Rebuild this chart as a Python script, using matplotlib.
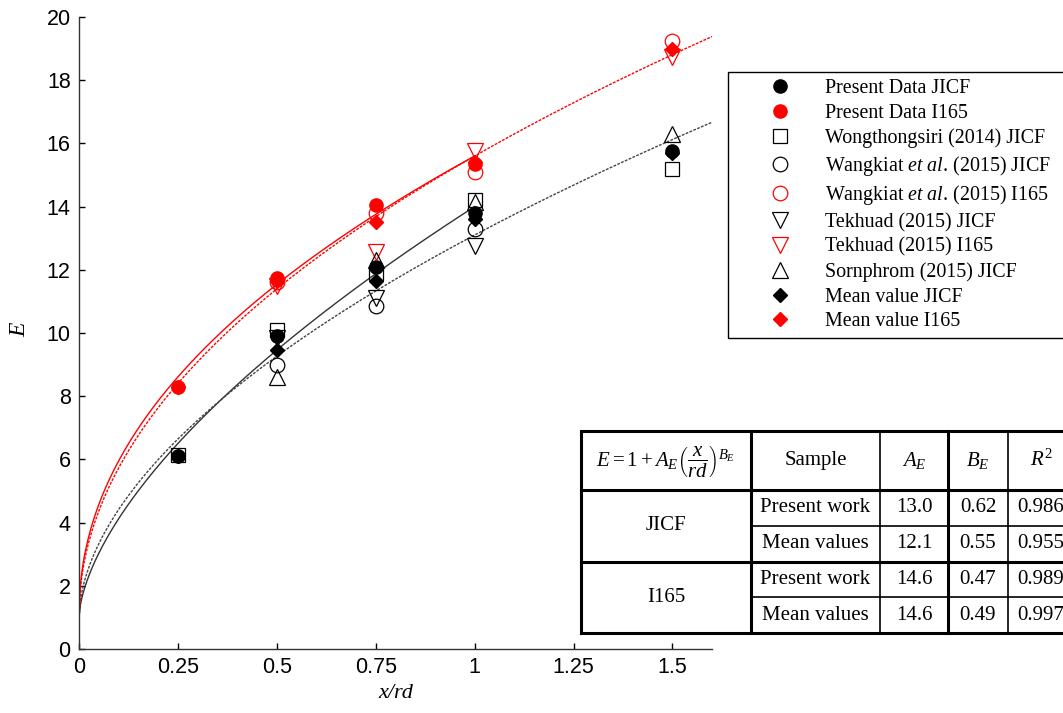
import numpy as np
import matplotlib
matplotlib.use("Agg")
import matplotlib.pyplot as plt
from matplotlib.lines import Line2D
from matplotlib.patches import Rectangle

plt.rcParams["mathtext.fontset"] = "custom"
plt.rcParams["mathtext.rm"] = "Liberation Serif"
plt.rcParams["mathtext.it"] = "Liberation Serif:italic"

# data
x_pres_jicf = [0.25, 0.5, 0.75, 1.0, 1.5]
e_pres_jicf = [6.1, 9.9, 12.1, 13.8, 15.75]
x_pres_i165 = [0.25, 0.5, 0.75, 1.0]
e_pres_i165 = [8.3, 11.75, 14.05, 15.35]
x_wong_jicf = [0.25, 0.5, 0.75, 1.0, 1.5]
e_wong_jicf = [6.15, 10.1, 11.9, 14.2, 15.2]
x_wang_jicf = [0.5, 0.75, 1.0]
e_wang_jicf = [9.0, 10.85, 13.3]
x_wang_i165 = [0.5, 0.75, 1.0, 1.5]
e_wang_i165 = [11.6, 13.8, 15.1, 19.25]
x_tek_jicf = [0.5, 0.75, 1.0]
e_tek_jicf = [9.85, 11.1, 12.75]
x_tek_i165 = [0.5, 0.75, 1.0, 1.5]
e_tek_i165 = [11.5, 12.55, 15.75, 18.75]
x_sorn_jicf = [0.5, 0.75, 1.0, 1.5]
e_sorn_jicf = [8.6, 12.3, 14.15, 16.3]
x_mean_jicf = [0.25, 0.5, 0.75, 1.0, 1.5]
e_mean_jicf = [6.1, 9.45, 11.65, 13.6, 15.7]
x_mean_i165 = [0.25, 0.5, 0.75, 1.0, 1.5]
e_mean_i165 = [8.3, 11.65, 13.5, 15.4, 19.0]

# fit table
groups = ["JICF", "I165"]
samples = ["Present work", "Mean values", "Present work", "Mean values"]
A_E = [13.0, 12.1, 14.6, 14.6]
B_E = [0.62, 0.55, 0.47, 0.49]
R2 = ["0.986", "0.955", "0.989", "0.997"]

W, H = 1063, 713
fig = plt.figure(figsize=(W / 100, H / 100), dpi=100)
ax = fig.add_axes([79 / W, 1 - 649 / H, (712 - 79) / W, (649 - 17) / H])

# fitted curves E = 1 + A (x/rd)^B
xs_short = np.linspace(0, 1.0, 300)
xs_long = np.linspace(0, 1.6, 400)
ax.plot(xs_short, 1 + A_E[0] * xs_short ** B_E[0], color="#333333", lw=1.0)
ax.plot(xs_long, 1 + A_E[1] * xs_long ** B_E[1], color="#444444", lw=1.0, ls=(0, (2, 1)))
ax.plot(xs_short, 1 + A_E[2] * xs_short ** B_E[2], color="red", lw=1.0)
ax.plot(xs_long, 1 + A_E[3] * xs_long ** B_E[3], color="red", lw=1.0, ls=(0, (2, 1)))

ms_open = 10.5
mew = 0.9
h1, = ax.plot(x_pres_jicf, e_pres_jicf, "o", color="black", ms=9.5, label="Present Data JICF")
h2, = ax.plot(x_pres_i165, e_pres_i165, "o", color="red", ms=9.5, label="Present Data I165")
h3, = ax.plot(x_wong_jicf, e_wong_jicf, "s", mfc="none", mec="black", mew=mew, ms=9.5,
              label="Wongthongsiri (2014) JICF")
h4, = ax.plot(x_wang_jicf, e_wang_jicf, "o", mfc="none", mec="black", mew=mew, ms=ms_open,
              label=r"$\mathrm{Wangkiat}\ \mathit{et\ al.}\,\mathrm{(2015)\ JICF}$")
h5, = ax.plot(x_wang_i165, e_wang_i165, "o", mfc="none", mec="red", mew=mew, ms=ms_open,
              label=r"$\mathrm{Wangkiat}\ \mathit{et\ al.}\,\mathrm{(2015)\ I165}$")
h6, = ax.plot(x_tek_jicf, e_tek_jicf, "v", mfc="none", mec="black", mew=mew, ms=11.5,
              label="Tekhuad (2015) JICF")
h7, = ax.plot(x_tek_i165, e_tek_i165, "v", mfc="none", mec="red", mew=mew, ms=11.5,
              label="Tekhuad (2015) I165")
h8, = ax.plot(x_sorn_jicf, e_sorn_jicf, "^", mfc="none", mec="black", mew=mew, ms=11.5,
              label="Sornphrom (2015) JICF")
h9, = ax.plot(x_mean_jicf, e_mean_jicf, "D", color="black", ms=7.5, label="Mean value JICF")
h10, = ax.plot(x_mean_i165, e_mean_i165, "D", color="red", ms=7.5, label="Mean value I165")

ax.set_xlim(0, 1.6)
ax.set_ylim(0, 20)
ax.set_xticks([0, 0.25, 0.5, 0.75, 1, 1.25, 1.5])
ax.set_xticklabels(["0", "0.25", "0.5", "0.75", "1", "1.25", "1.5"])
ax.set_yticks(range(0, 21, 2))
for s in ["top", "right"]:
    ax.spines[s].set_visible(False)
for s in ["left", "bottom"]:
    ax.spines[s].set_linewidth(1.0)
    ax.spines[s].set_color("#333333")
ax.tick_params(direction="in", length=4, width=1.0, labelsize=15.5, pad=6)
for lab in ax.get_xticklabels() + ax.get_yticklabels():
    lab.set_family("Liberation Sans")
ax.set_xlabel("x/rd", fontsize=16, family="Liberation Serif", style="italic", labelpad=4)
ax.set_ylabel("E", fontsize=17, family="Liberation Serif", style="italic")
ax.yaxis.set_label_coords(-0.077, 0.505)

# legend, partly cut off on the right like the original
handles = [h1, h2, h3, h4, h5, h6, h7, h8, h9, h10]
leg = fig.legend(handles=handles, loc="upper left",
                 bbox_to_anchor=(728 / W, 1 - 333 / H, 0.4, (333 - 72) / H),
                 mode="expand", borderaxespad=0, fancybox=False, edgecolor="black",
                 framealpha=1, prop={"family": "Liberation Serif", "size": 14.4},
                 handlelength=4.5, handletextpad=0.0, labelspacing=0.28, borderpad=0.35)
leg.get_frame().set_linewidth(1.0)

# table drawn in figure pixels
def fx(px):
    return px / W

def fy(py):
    return 1 - py / H

cols = [581, 751, 880, 948, 1008, 1078]
rows = [431, 490, 526, 562, 597, 633]
thick = 2.2
thin = 1.2

fig.add_artist(Rectangle((fx(581), fy(633)), fx(1078) - fx(581), fy(431) - fy(633),
                         transform=fig.transFigure, facecolor="white", edgecolor="none", zorder=5))

def hline(y, x0, x1, lw):
    fig.add_artist(Line2D([fx(x0), fx(x1)], [fy(y), fy(y)], color="black", lw=lw,
                          transform=fig.transFigure, zorder=6))

def vline(x, y0, y1, lw):
    fig.add_artist(Line2D([fx(x), fx(x)], [fy(y0), fy(y1)], color="black", lw=lw,
                          transform=fig.transFigure, zorder=6))

hline(431, 581, 1078, thick)
hline(490, 581, 1078, thick)
hline(526, 751, 1078, thin)
hline(562, 581, 1078, thick)
hline(597, 751, 1078, thin)
hline(633, 581, 1078, thick)
vline(581, 431, 633, thick)
vline(751, 431, 633, thick)
vline(880, 431, 633, thin)
vline(948, 431, 633, thick)
vline(1008, 431, 633, thin)

tkw = dict(ha="center", va="center", family="Liberation Serif", zorder=7)
def cell(px, py, s, size=15):
    fig.text(fx(px), fy(py), s, fontsize=size, **tkw)

hy = (rows[0] + rows[1]) / 2
cell((cols[0] + cols[1]) / 2, hy + 1,
     r"$E=1+A_E\left(\dfrac{x}{rd}\right)^{B_E}$", 15)
cell((cols[1] + cols[2]) / 2, hy, "Sample")
cell((cols[2] + cols[3]) / 2, hy, r"$A_E$")
cell((cols[3] + cols[4]) / 2, hy, r"$B_E$")
cell(1041, hy, r"$R^2$")

cell((cols[0] + cols[1]) / 2, rows[2], groups[0])
cell((cols[0] + cols[1]) / 2, rows[4], groups[1])
for i in range(4):
    yc = (rows[i + 1] + rows[i + 2]) / 2
    cell((cols[1] + cols[2]) / 2, yc, samples[i])
    cell((cols[2] + cols[3]) / 2, yc, f"{A_E[i]:.1f}")
    cell((cols[3] + cols[4]) / 2, yc, f"{B_E[i]:.2f}")
    cell(1041, yc, R2[i])

plt.savefig("out.png", dpi=100)
